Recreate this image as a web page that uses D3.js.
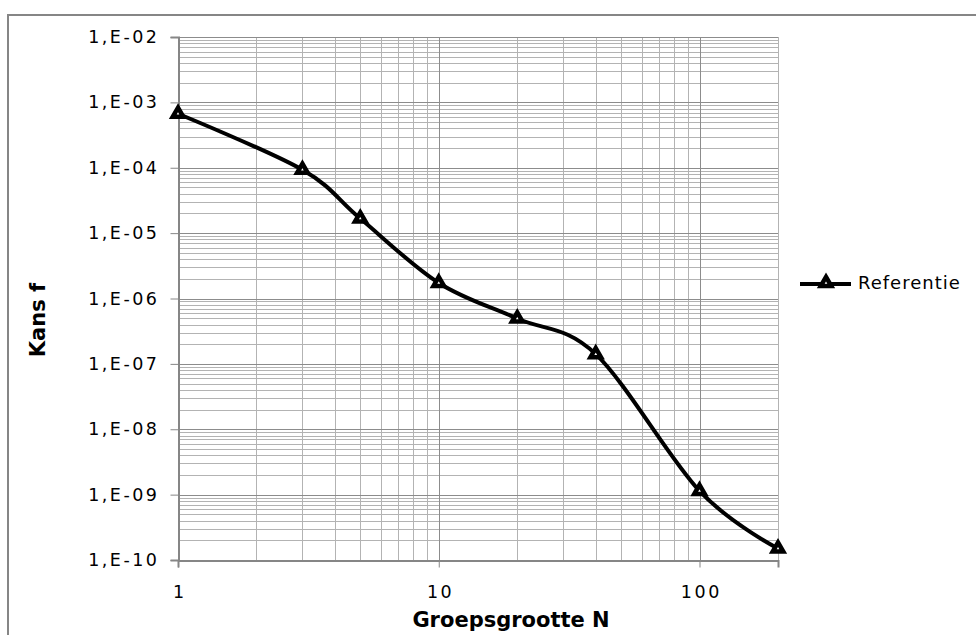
<!DOCTYPE html>
<html><head><meta charset="utf-8">
<script src="https://cdn.jsdelivr.net/npm/d3@7"></script>
<style>
html,body{margin:0;padding:0;background:#fff;}
svg{display:block;}
text{font-family:"DejaVu Sans",Verdana,sans-serif;fill:#000;}
</style></head>
<body>
<svg id="chart" width="976" height="635"></svg>
<script>
// Data
const groupSizes = [1, 3, 5, 10, 20, 40, 100, 200];
const referentie = [6.7e-4, 9.3e-5, 1.67e-5, 1.73e-6, 4.95e-7, 1.41e-7, 1.14e-9, 1.5e-10];
const yTickValues = [1e-2, 1e-3, 1e-4, 1e-5, 1e-6, 1e-7, 1e-8, 1e-9, 1e-10];
const yTickLabels = ["1,E-02","1,E-03","1,E-04","1,E-05","1,E-06","1,E-07","1,E-08","1,E-09","1,E-10"];
const xTickValues = [1, 10, 100];
const xTickLabels = ["1","10","100"];
const seriesName = "Referentie";
const xTitle = "Groepsgrootte N";
const yTitle = "Kans f";

const svg = d3.select("#chart");
const L = 178, R = 778, T = 37, B = 560;

const x = d3.scaleLog().domain([1, 200]).range([L, R]);
const y = d3.scaleLog().domain([1e-10, 1e-2]).range([B, T]);

// outer chart border
svg.append("rect").attr("x", 8).attr("y", 15).attr("width", 980).attr("height", 640)
  .attr("fill", "none").attr("stroke", "#868686").attr("stroke-width", 2);

// minor gridlines
const g = svg.append("g");
const yMinor = [];
for (let e = -10; e < -2; e++) for (let m = 2; m <= 9; m++) yMinor.push(m * Math.pow(10, e));
const xMinor = [];
for (let e = 0; e <= 2; e++) for (let m = 2; m <= 9; m++) { const v = m * Math.pow(10, e); if (v < 200) xMinor.push(v); }

g.selectAll(".hmin").data(yMinor).enter().append("line")
  .attr("x1", L).attr("x2", R)
  .attr("y1", d => Math.round(y(d)) + 0.5).attr("y2", d => Math.round(y(d)) + 0.5)
  .attr("stroke", "#b3b3b3").attr("stroke-width", 1);
g.selectAll(".vmin").data(xMinor).enter().append("line")
  .attr("y1", T).attr("y2", B)
  .attr("x1", d => Math.round(x(d)) + 0.5).attr("x2", d => Math.round(x(d)) + 0.5)
  .attr("stroke", "#b3b3b3").attr("stroke-width", 1);
// major gridlines
g.selectAll(".hmaj").data(yTickValues).enter().append("line")
  .attr("x1", L).attr("x2", R)
  .attr("y1", d => Math.round(y(d)) + 0.5).attr("y2", d => Math.round(y(d)) + 0.5)
  .attr("stroke", "#8c8c8c").attr("stroke-width", 1);
g.selectAll(".vmaj").data(xTickValues).enter().append("line")
  .attr("y1", T).attr("y2", B)
  .attr("x1", d => Math.round(x(d)) + 0.5).attr("x2", d => Math.round(x(d)) + 0.5)
  .attr("stroke", "#8c8c8c").attr("stroke-width", 1);
// right border of plot area
g.append("line").attr("x1", R + 0.5).attr("x2", R + 0.5).attr("y1", T).attr("y2", B)
  .attr("stroke", "#b3b3b3");

// axes
const yAxis = d3.axisLeft(y).tickValues(yTickValues).tickSize(8)
  .tickFormat((d, i) => yTickLabels[i]);
const ya = svg.append("g").attr("transform", `translate(${L + 0.5},0)`).call(yAxis);
ya.select(".domain").attr("stroke", "#868686").attr("stroke-width", 2);
ya.selectAll(".tick line").attr("stroke", "#868686");
ya.selectAll(".tick text").attr("font-size", 17.5).attr("letter-spacing", "2.5px")
  .attr("font-family", "DejaVu Sans").attr("x", -19).attr("fill", "#000");

const xAxis = d3.axisBottom(x).tickValues(xTickValues).tickSize(7)
  .tickFormat((d, i) => xTickLabels[i]);
const xa = svg.append("g").attr("transform", `translate(0,${B + 0.5})`).call(xAxis);
xa.select(".domain").attr("stroke", "#868686").attr("stroke-width", 2);
xa.selectAll(".tick line").attr("stroke", "#868686");
xa.selectAll(".tick text").attr("font-size", 17.5).attr("letter-spacing", "2.5px")
  .attr("font-family", "DejaVu Sans").attr("y", 37).attr("dy", 0).attr("dx", 1.3).attr("fill", "#000");

// axis titles
svg.append("text").attr("x", 511).attr("y", 627).attr("text-anchor", "middle")
  .attr("font-size", 21).attr("font-weight", "bold").text(xTitle);
svg.append("text").attr("transform", "translate(45,320) rotate(-90)").attr("text-anchor", "middle")
  .attr("font-size", 21).attr("font-weight", "bold").text(yTitle);

// series
const pts = groupSizes.map((d, i) => [x(d), y(referentie[i])]);
const line = d3.line().curve(d3.curveCatmullRom.alpha(0));
svg.append("path").attr("d", line(pts)).attr("fill", "none")
  .attr("stroke", "#000").attr("stroke-width", 4).attr("stroke-linejoin", "round");

const tri = d3.symbol().type(d3.symbolTriangle).size(48);
svg.selectAll(".mk").data(pts).enter().append("path")
  .attr("d", tri).attr("transform", d => `translate(${d[0]},${d[1]})`)
  .attr("fill", "#fff").attr("stroke", "#000").attr("stroke-width", 4.5);

// legend
const lg = svg.append("g");
lg.append("line").attr("x1", 800).attr("x2", 851).attr("y1", 284).attr("y2", 284)
  .attr("stroke", "#000").attr("stroke-width", 4);
lg.append("path").attr("d", tri).attr("transform", "translate(826,283)")
  .attr("fill", "#fff").attr("stroke", "#000").attr("stroke-width", 4.5);
lg.append("text").attr("x", 858).attr("y", 289).attr("font-size", 18)
  .attr("font-family", "DejaVu Sans").attr("letter-spacing", "1px").text(seriesName);
</script>
</body></html>
